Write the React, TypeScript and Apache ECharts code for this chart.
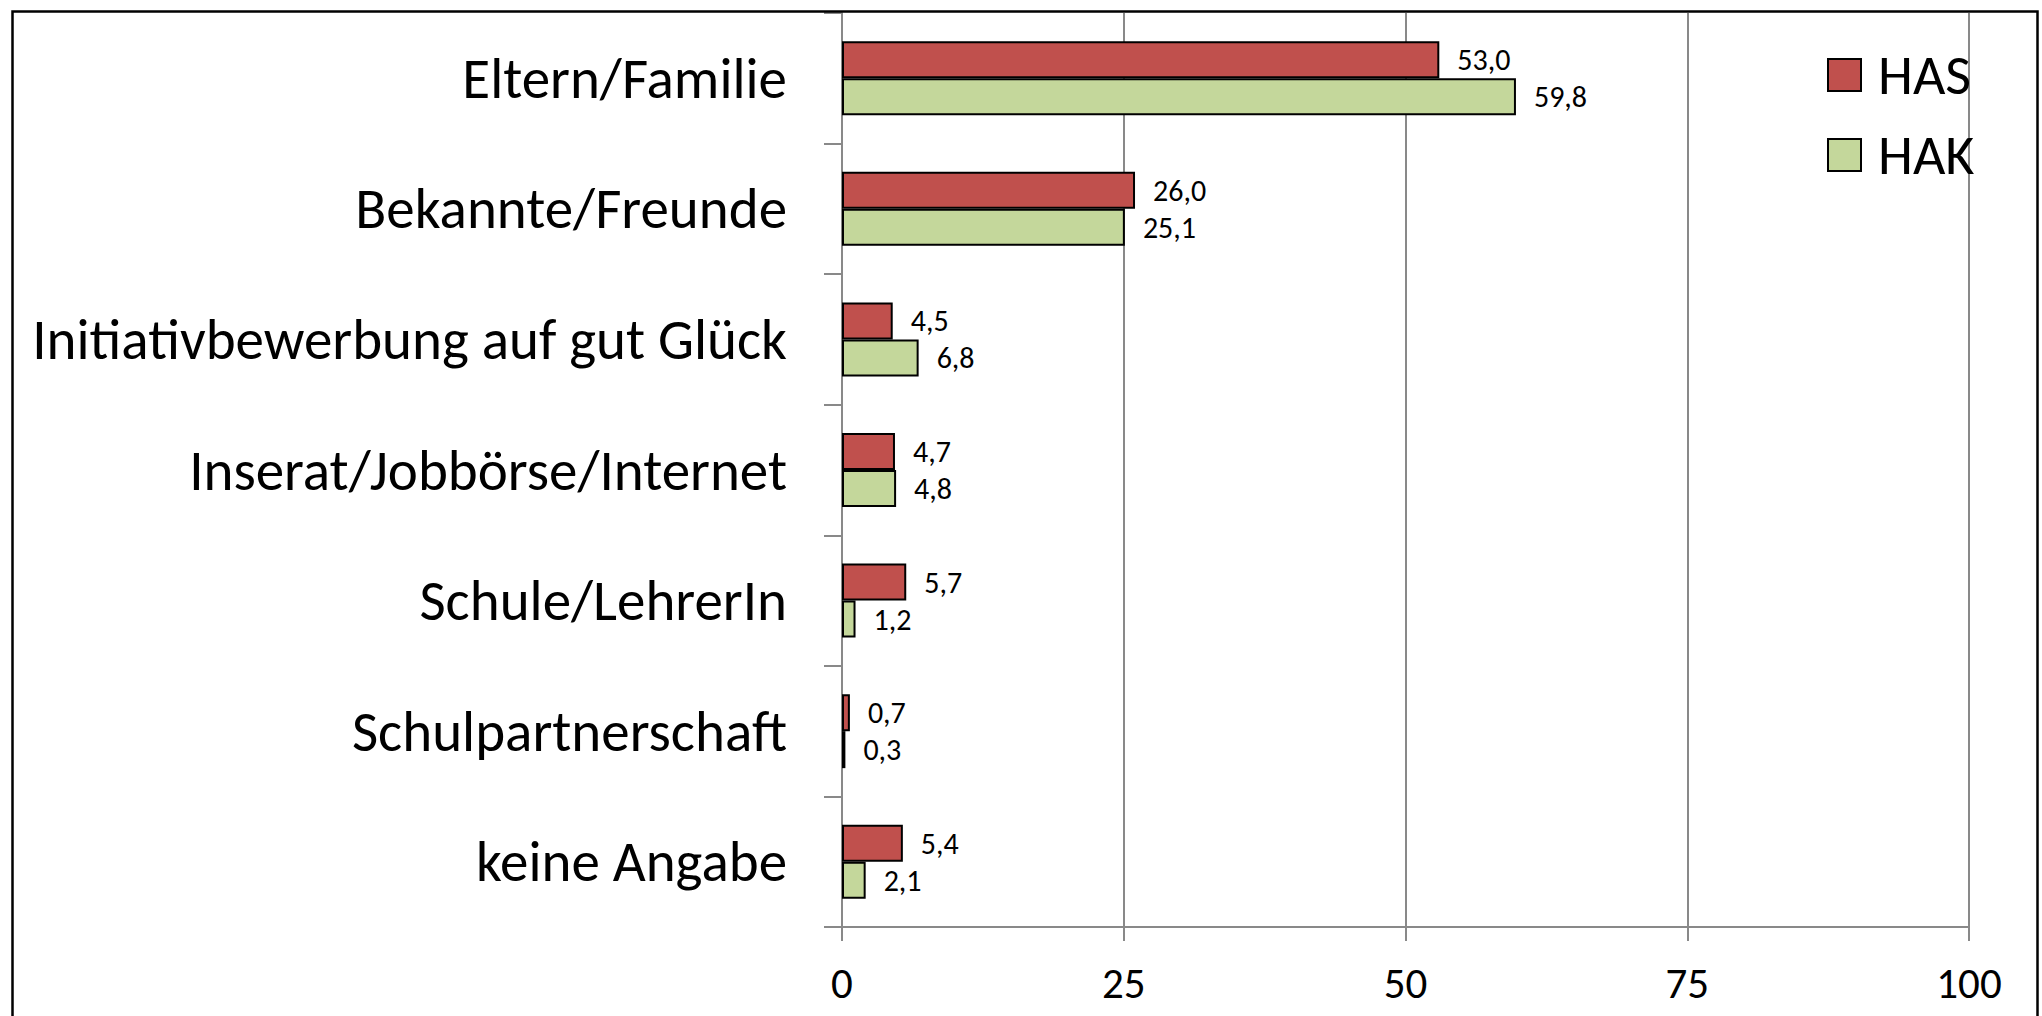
import React, { useEffect, useRef } from "react";
import * as echarts from "echarts";

const categories = [
  "Eltern/Familie",
  "Bekannte/Freunde",
  "Initiativbewerbung auf gut Glück",
  "Inserat/Jobbörse/Internet",
  "Schule/LehrerIn",
  "Schulpartnerschaft",
  "keine Angabe",
];
const hasValues = [53.0, 26.0, 4.5, 4.7, 5.7, 0.7, 5.4];
const hakValues = [59.8, 25.1, 6.8, 4.8, 1.2, 0.3, 2.1];
const seriesNames = ["HAS", "HAK"];
const xTicks = [0, 25, 50, 75, 100];

const FONT = "Carlito, Lato, 'Open Sans', sans-serif";

export default function App() {
  const ref = useRef<HTMLDivElement>(null);
  useEffect(() => {
    document.body.style.margin = "0";
    const chart = echarts.init(ref.current!, null, { renderer: "svg" });
    const labelFmt = (p: any) => Number(p.value).toFixed(1).replace(".", ",");
    const barCommon = {
      type: "bar",
      barWidth: 37,
      barGap: "0%",
      label: {
        show: true,
        position: "right",
        distance: 18,
        formatter: labelFmt,
        color: "#000",
        fontSize: 30,
        fontFamily: FONT,
      },
    };
    chart.setOption({
      animation: false,
      backgroundColor: "#fff",
      textStyle: { fontFamily: FONT },
      grid: { left: 842, right: 73, top: 13, bottom: 89 },
      legend: {
        orient: "vertical",
        left: 1822,
        top: 41,
        icon: "rect",
        itemWidth: 33,
        itemHeight: 32,
        itemGap: 22,
        textStyle: { fontSize: 56, color: "#000", fontFamily: FONT, lineHeight: 58, padding: [0, 0, 0, 12] },
        data: seriesNames,
      },
      xAxis: {
        type: "value",
        min: xTicks[0],
        max: xTicks[xTicks.length - 1],
        interval: 25,
        axisLine: { show: true, lineStyle: { color: "#898989", width: 2 } },
        axisTick: { show: true, length: 14, lineStyle: { color: "#898989", width: 2 } },
        splitLine: { show: true, lineStyle: { color: "#898989", width: 2 } },
        axisLabel: { fontSize: 43, color: "#000", margin: 35, fontFamily: FONT },
      },
      yAxis: {
        type: "category",
        inverse: true,
        data: categories,
        axisLine: { show: true, lineStyle: { color: "#898989", width: 2 } },
        axisTick: { show: true, length: 18, lineStyle: { color: "#898989", width: 2 } },
        axisLabel: { fontSize: 57, color: "#000", margin: 55, fontFamily: FONT },
      },
      graphic: [
        {
          type: "rect",
          left: 10,
          top: 9,
          shape: { width: 2025, height: 1100 },
          style: { fill: "none", stroke: "#000", lineWidth: 2.5 },
          silent: true,
          z: 100,
        },
      ],
      series: [
        {
          ...barCommon,
          name: seriesNames[0],
          data: hasValues,
          itemStyle: { color: "#C0504D", borderColor: "#000", borderWidth: 2 },
        },
        {
          ...barCommon,
          name: seriesNames[1],
          data: hakValues,
          itemStyle: { color: "#C4D79B", borderColor: "#000", borderWidth: 2 },
        },
      ],
    });
    return () => chart.dispose();
  }, []);
  return <div ref={ref} style={{ width: 2042, height: 1016 }} />;
}
